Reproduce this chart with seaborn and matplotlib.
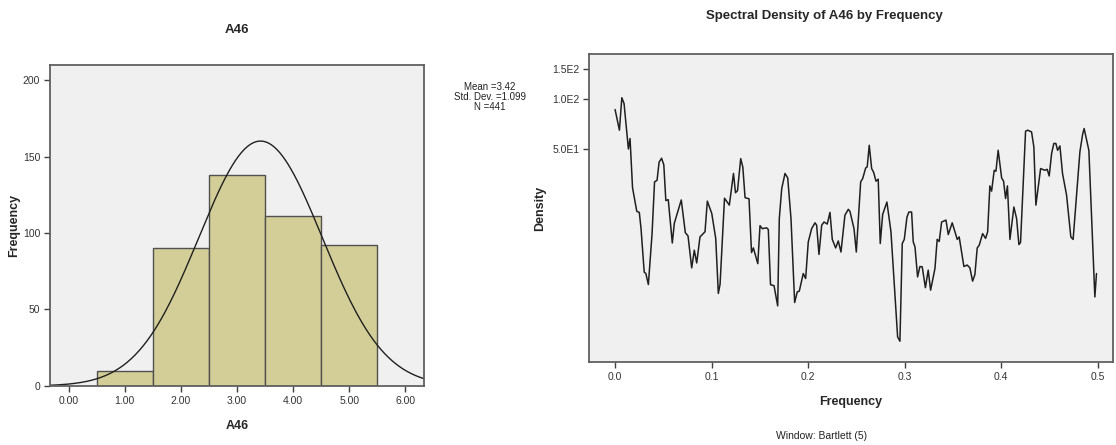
import numpy as np
import matplotlib
matplotlib.use("Agg")
import matplotlib.pyplot as plt
import seaborn as sns
from matplotlib.ticker import FixedLocator, NullLocator, FixedFormatter

# histogram of A46
score = [1, 2, 3, 4, 5]
count = [10, 90, 138, 111, 92]
hist_xticks = [0, 1, 2, 3, 4, 5, 6]
hist_yticks = [0, 50, 100, 150, 200]

# spectral density (Bartlett window, span 5)
freq = [0.0000, 0.0045, 0.0070, 0.0093, 0.0138, 0.0155, 0.0181, 0.0225, 0.0251, 0.0269,
        0.0302, 0.0319, 0.0345, 0.0383, 0.0409, 0.0435, 0.0456, 0.0482, 0.0505, 0.0526,
        0.0551, 0.0593, 0.0614, 0.0686, 0.0728, 0.0756, 0.0794, 0.0821, 0.0846, 0.0880,
        0.0932, 0.0956, 0.1002, 0.1043, 0.1070, 0.1088, 0.1134, 0.1184, 0.1227, 0.1248,
        0.1269, 0.1302, 0.1324, 0.1347, 0.1388, 0.1414, 0.1433, 0.1479, 0.1502, 0.1526,
        0.1571, 0.1588, 0.1611, 0.1647, 0.1685, 0.1702, 0.1727, 0.1761, 0.1789, 0.1823,
        0.1861, 0.1888, 0.1909, 0.1950, 0.1975, 0.2002, 0.2037, 0.2072, 0.2089, 0.2113,
        0.2141, 0.2165, 0.2199, 0.2227, 0.2251, 0.2286, 0.2313, 0.2341, 0.2382, 0.2417,
        0.2434, 0.2476, 0.2500, 0.2545, 0.2566, 0.2597, 0.2613, 0.2634, 0.2659, 0.2680,
        0.2704, 0.2727, 0.2748, 0.2773, 0.2817, 0.2859, 0.2928, 0.2952, 0.2976, 0.2997,
        0.3025, 0.3045, 0.3073, 0.3090, 0.3108, 0.3135, 0.3159, 0.3183, 0.3216, 0.3245,
        0.3270, 0.3315, 0.3338, 0.3359, 0.3384, 0.3429, 0.3453, 0.3494, 0.3546, 0.3566,
        0.3615, 0.3649, 0.3677, 0.3705, 0.3729, 0.3753, 0.3774, 0.3809, 0.3840, 0.3861,
        0.3884, 0.3902, 0.3929, 0.3947, 0.3970, 0.4006, 0.4026, 0.4047, 0.4066, 0.4092,
        0.4133, 0.4161, 0.4185, 0.4202, 0.4254, 0.4275, 0.4316, 0.4340, 0.4361, 0.4410,
        0.4454, 0.4478, 0.4499, 0.4524, 0.4547, 0.4568, 0.4586, 0.4610, 0.4637, 0.4679,
        0.4723, 0.4747, 0.4817, 0.4845, 0.4861, 0.4910, 0.4972, 0.4989]
dens = [86.0, 64.8, 101.1, 93.4, 50.1, 57.8, 29.4, 21.3, 21.0, 16.8,
        9.25, 9.08, 7.81, 15.6, 31.9, 32.6, 41.8, 44.1, 40.3, 24.7,
        25.0, 13.8, 18.1, 24.9, 15.9, 15.2, 9.81, 12.5, 10.5, 15.0,
        16.1, 24.5, 20.7, 14.7, 6.91, 7.84, 25.5, 23.2, 35.8, 27.5,
        28.3, 43.9, 39.0, 25.7, 25.3, 12.1, 12.9, 10.4, 17.5, 16.8,
        17.0, 16.6, 7.79, 7.69, 5.83, 19.3, 29.1, 35.8, 33.7, 19.3,
        6.10, 7.06, 7.13, 9.08, 8.48, 14.0, 16.8, 18.2, 17.6, 11.8,
        17.6, 18.4, 17.9, 21.0, 14.5, 12.9, 14.2, 12.2, 20.2, 21.9,
        21.3, 16.8, 12.2, 31.9, 33.4, 38.6, 39.2, 52.7, 38.3, 36.3,
        32.2, 33.1, 13.7, 20.4, 24.2, 16.1, 3.81, 3.59, 13.7, 14.5,
        19.7, 21.1, 21.1, 14.0, 13.1, 8.67, 10.0, 9.95, 7.48, 9.51,
        7.23, 9.73, 14.5, 14.1, 18.4, 18.9, 15.5, 18.2, 14.5, 15.0,
        10.0, 10.2, 9.81, 8.18, 8.96, 12.9, 13.4, 15.7, 14.7, 16.1,
        30.2, 28.1, 37.4, 36.9, 49.2, 33.7, 32.2, 25.4, 30.2, 14.5,
        22.6, 19.3, 13.5, 13.9, 63.9, 64.8, 63.3, 51.5, 23.2, 38.3,
        37.4, 37.9, 34.6, 47.1, 54.0, 54.0, 49.2, 52.2, 35.8, 26.6,
        15.0, 14.5, 48.1, 61.1, 66.3, 49.2, 6.59, 9.08]
dens_ticks = [50, 100, 150]
dens_labels = ["5.0E1", "1.0E2", "1.5E2"]
freq_ticks = [0.0, 0.1, 0.2, 0.3, 0.4, 0.5]

sns.set_style("white")
plt.rcParams["font.family"] = ["Liberation Sans", "DejaVu Sans"]

bg = "#F0F0F0"
frame = "#606060"

fig = plt.figure(figsize=(11.16, 4.45), dpi=100)
ax1 = fig.add_axes([0.0448, 0.1326, 0.3351, 0.722])
ax2 = fig.add_axes([0.5278, 0.1865, 0.4695, 0.692])

# ---- left: histogram with normal curve
sns.histplot(x=score, weights=count, discrete=True, color="#D3CE97", alpha=1,
             edgecolor="#505050", linewidth=1.0, ax=ax1)
n = sum(count)
s = np.repeat(score, count)
mu = s.mean()
sd = s.std(ddof=1)
xs = np.linspace(-0.33, 6.33, 400)
ys = n * np.exp(-(xs - mu) ** 2 / (2 * sd ** 2)) / (sd * np.sqrt(2 * np.pi))
sns.lineplot(x=xs, y=ys, color="#202020", linewidth=1.0, ax=ax1)
ax1.set_xlim(-0.33, 6.33)
ax1.set_ylim(0, 210)
ax1.set_xticks(hist_xticks)
ax1.set_xticklabels([f"{t:.2f}" for t in hist_xticks])
ax1.set_yticks(hist_yticks)
ax1.set_xlabel("A46", fontsize=9, fontweight="bold", labelpad=10)
ax1.set_ylabel("Frequency", fontsize=9, fontweight="bold", labelpad=2)

# ---- right: spectral density
sns.lineplot(x=freq, y=dens, color="#202020", linewidth=1.1, ax=ax2)
ax2.set_yscale("log")
ax2.set_ylim(2.7, 184)
ax2.set_xlim(-0.027, 0.516)
ax2.yaxis.set_major_locator(FixedLocator(dens_ticks))
ax2.yaxis.set_major_formatter(FixedFormatter(dens_labels))
ax2.yaxis.set_minor_locator(NullLocator())
ax2.set_xticks(freq_ticks)
ax2.set_xticklabels([f"{t:.1f}" for t in freq_ticks])
ax2.set_xlabel("Frequency", fontsize=9, fontweight="bold", labelpad=10)
ax2.set_ylabel("Density", fontsize=9, fontweight="bold", labelpad=4)

for ax in (ax1, ax2):
    ax.set_facecolor(bg)
    for sp in ax.spines.values():
        sp.set_color(frame)
        sp.set_linewidth(1.3)
    ax.tick_params(axis="both", which="major", direction="out", length=4,
                   width=1.0, color="#404040", labelsize=7.5, labelcolor="#333333",
                   left=True, bottom=True, pad=3)

fig.text(237 / 1116, 1 - 30 / 445, "A46", ha="center", va="center",
         fontsize=9.5, fontweight="bold")
fig.text(824 / 1116, 1 - 16 / 445, "Spectral Density of A46 by Frequency",
         ha="center", va="center", fontsize=9.5, fontweight="bold")
fig.text(490 / 1116, 1 - 97 / 445,
         f"Mean ={mu:.2f}\nStd. Dev. ={sd:.3f}\nN ={n}",
         ha="center", va="center", fontsize=7, linespacing=0.95, color="#222222")
fig.text(822 / 1116, 1 - 436 / 445, "Window: Bartlett (5)", ha="center",
         va="center", fontsize=7.5, color="#222222")

fig.savefig("out.png", dpi=100, facecolor="white")
